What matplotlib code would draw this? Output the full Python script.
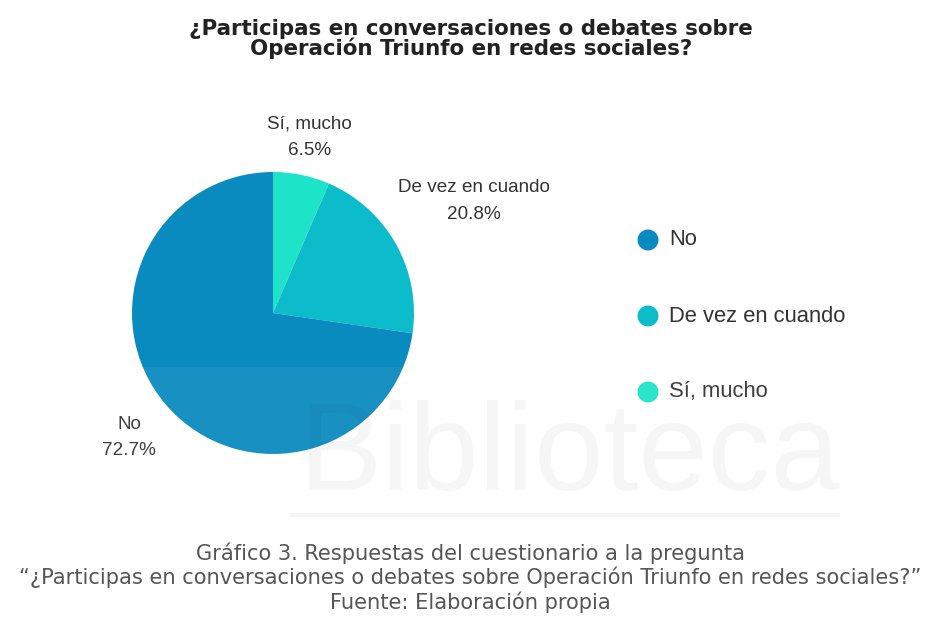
import matplotlib
matplotlib.use("Agg")
import matplotlib.pyplot as plt
import numpy as np
from matplotlib.patches import Rectangle, Ellipse

categories = ["Sí, mucho", "De vez en cuando", "No"]
values = [6.5, 20.8, 72.7]
colors = ["#1de3c9", "#0cbccb", "#0a8bbf"]
legend_order = ["No", "De vez en cuando", "Sí, mucho"]
label_radius = [1.27, 1.63, 1.35]

title = "¿Participas en conversaciones o debates sobre\nOperación Triunfo en redes sociales?"
caption = ["Gráfico 3. Respuestas del cuestionario a la pregunta",
           "“¿Participas en conversaciones o debates sobre Operación Triunfo en redes sociales?”",
           "Fuente: Elaboración propia"]

W, H = 940, 621
fig = plt.figure(figsize=(W / 100, H / 100), dpi=100)
plt.rcParams['font.family'] = ['Liberation Sans', 'DejaVu Sans']

def px(x, y):
    return x / W, 1 - y / H

# title
fig.text(*px(471, 39), title, ha="center", va="center", fontsize=15.4,
         fontweight="bold", color="#222222", linespacing=0.93,
         family=["DejaVu Sans"])

# pie
cx, cy, r = 273, 313, 141
ax = fig.add_axes([(cx - r) / W, (H - cy - r) / H, 2 * r / W, 2 * r / H])
wedges, _ = ax.pie(values, colors=colors, startangle=90, counterclock=False,
                   radius=1.0, wedgeprops=dict(linewidth=0))
ax.set_xlim(-1, 1)
ax.set_ylim(-1, 1)
ax.set_aspect("equal")
ax.axis("off")

for w, cat, v, lr in zip(wedges, categories, values, label_radius):
    ang = np.deg2rad((w.theta1 + w.theta2) / 2)
    ax.text(lr * np.cos(ang), lr * np.sin(ang), f"{cat}\n{v}%", ha="center",
            va="center", fontsize=13.6, color="#333333", linespacing=1.72,
            clip_on=False)

# legend
col_map = dict(zip(categories, colors))
ys = [240, 316, 392]
for name, y in zip(legend_order, ys):
    fig.add_artist(Ellipse(px(648, y), 21 / W, 21 / H, transform=fig.transFigure,
                           color=col_map[name], lw=0))
    fig.text(*px(669, y), name, ha="left", va="center", fontsize=15.8,
             color="#333333")

# faint watermark
fig.add_artist(Rectangle(px(95, 520), 780 / W, 153 / H, transform=fig.transFigure,
                         color="#ffffff", alpha=0.06, lw=0, zorder=5))
fig.text(*px(570, 458), "Biblioteca", ha="center", va="center", fontsize=90,
         color="#000000", alpha=0.035, zorder=6)
fig.add_artist(Rectangle(px(290, 517), 550 / W, 4 / H, transform=fig.transFigure,
                         color="#000000", alpha=0.04, lw=0, zorder=6))

# caption
for i, line in enumerate(caption):
    fig.text(*px(470, 553 + 24.5 * i), line, ha="center", va="center",
             fontsize=15.1, color="#555555", family=["DejaVu Sans"])

fig.savefig("out.png", dpi=100)
